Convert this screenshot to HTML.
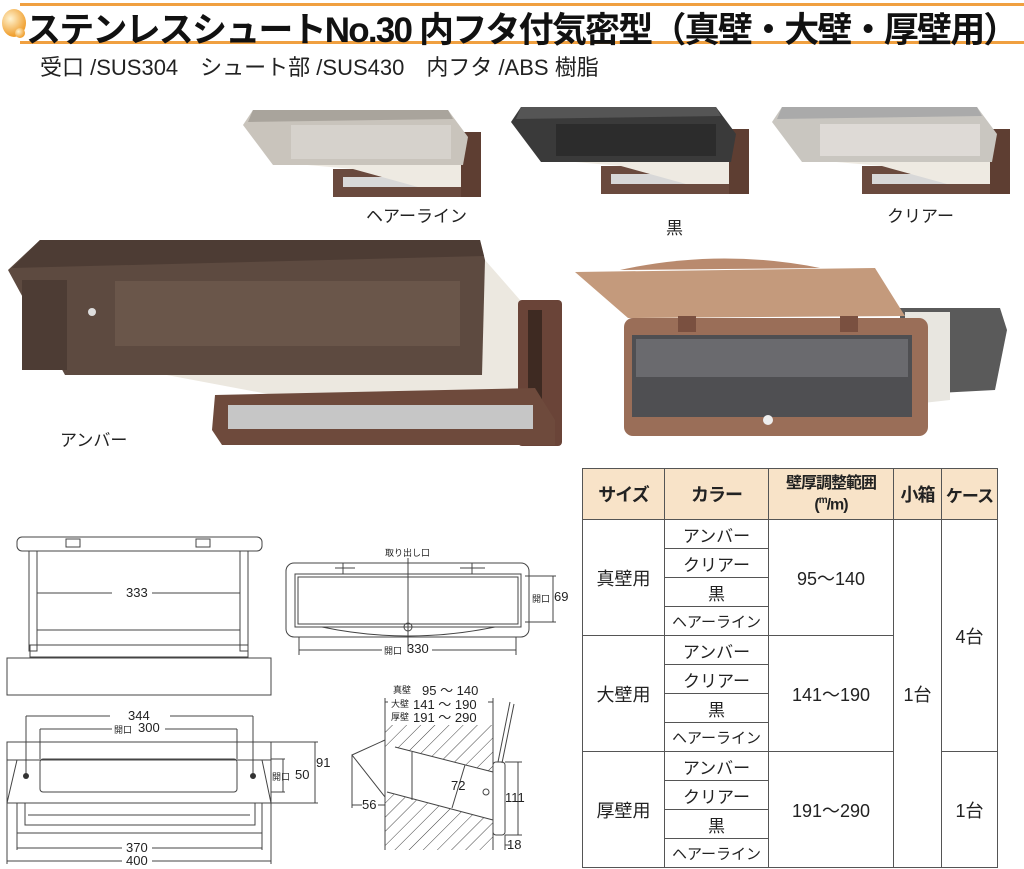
<!DOCTYPE html>
<html><head><meta charset="utf-8"><style>
body{margin:0;background:#fff;width:1024px;height:869px;overflow:hidden;position:relative;font-family:"Liberation Sans","Noto Sans CJK JP",sans-serif;}
.t{position:absolute;white-space:nowrap;color:#222}
table{position:absolute;left:582px;top:468px;border-collapse:collapse;table-layout:fixed;font-family:"Liberation Sans","Noto Sans CJK JP",sans-serif;color:#222}
td,th{border:1.5px solid #555;padding:0;text-align:center;font-weight:normal;white-space:nowrap;overflow:hidden}
th{background:#f8e3c8;font-weight:bold;font-size:18px;height:50px;letter-spacing:-1px}
td{font-size:18px;height:28px}
td.c{font-size:17px}
</style></head><body>
<div style="position:absolute;left:20px;top:3px;width:1004px;height:3px;background:#f0a040"></div>
<div style="position:absolute;left:20px;top:41px;width:1004px;height:3px;background:#f0a040"></div>
<div style="position:absolute;left:2px;top:9px;width:24px;height:28px;border-radius:50%;background:radial-gradient(circle at 35% 35%,#fff3d0,#f0a030 70%)"></div>
<div style="position:absolute;left:15px;top:28px;width:10px;height:10px;border-radius:50%;background:radial-gradient(circle at 35% 35%,#fff3d0,#f0a030 70%)"></div>
<div class="t" style="left:26px;top:2px;font-size:35px;font-weight:bold;letter-spacing:-1.8px;color:#111">ステンレスシュートNo.30 内フタ付気密型（真壁・大壁・厚壁用）</div>
<div class="t" style="left:40px;top:50px;font-size:22px;">受口 /SUS304　シュート部 /SUS430　内フタ /ABS 樹脂</div>

<svg width="1024" height="869" style="position:absolute;left:0;top:0" xmlns="http://www.w3.org/2000/svg">
<defs>
<g id="sm">
<rect x="90" y="62" width="148" height="28" fill="#6a4a3e"/>
<rect x="100" y="70" width="128" height="10" fill="#d8d8d8"/>
<polygon points="30,55 225,45 228,80 175,80 110,62" fill="#eeeae2"/>
<rect x="218" y="25" width="20" height="65" fill="#5e3e32"/>
</g>
<pattern id="h" width="10" height="10" patternUnits="userSpaceOnUse" patternTransform="rotate(45)"><line x1="0" y1="0" x2="0" y2="10" stroke="#444" stroke-width="1"/></pattern>
</defs>
<g transform="translate(243,107)"><use href="#sm"/>
<polygon points="10,3 205,3 225,30 220,58 30,58 0,18" fill="#c9c4bc"/>
<polygon points="10,3 205,3 210,12 5,15" fill="#a9a49c"/>
<rect x="48" y="18" width="160" height="34" fill="#d6d2cc"/></g>
<g transform="translate(511,104)"><use href="#sm"/>
<polygon points="10,3 205,3 225,30 220,58 30,58 0,18" fill="#3a3a3a"/>
<polygon points="10,3 205,3 210,12 5,15" fill="#555"/>
<rect x="45" y="20" width="160" height="32" fill="#2c2c2c"/></g>
<g transform="translate(772,104)"><use href="#sm"/>
<polygon points="10,3 205,3 225,30 220,58 30,58 0,18" fill="#c9c6c0"/>
<polygon points="10,3 205,3 210,12 5,15" fill="#aaa"/>
<rect x="48" y="20" width="160" height="32" fill="#dedad6"/></g>
<polygon points="140,370 485,260 520,300 550,410 480,420 300,400" fill="#ece8e0"/>
<rect x="518" y="300" width="44" height="146" rx="4" fill="#6a4438"/>
<rect x="528" y="310" width="14" height="120" fill="#3e2a22"/>
<polygon points="215,395 535,388 555,420 555,445 222,445 212,430" fill="#6e4a3c"/>
<rect x="228" y="405" width="305" height="24" fill="#c6c6c6"/>
<polygon points="40,240 480,240 485,260 482,375 65,375 8,270" fill="#5d4a40"/>
<polygon points="40,240 480,240 484,256 12,268" fill="#4d3c34"/>
<rect x="22" y="280" width="45" height="90" fill="#4d3c34"/>
<rect x="115" y="281" width="345" height="65" fill="#6a564a"/>
<circle cx="92" cy="312" r="4" fill="#ddd"/>
<polygon points="900,308 1000,308 1007,330 995,390 900,395" fill="#5a5a5a"/>
<polygon points="905,312 950,312 950,400 905,405" fill="#e8e6e0"/>
<path d="M620,270 Q720,248 820,268 Z" fill="#b98a6e"/>
<polygon points="575,272 875,268 905,316 628,318" fill="#c49a7c"/>
<rect x="624" y="318" width="304" height="118" rx="9" fill="#9a6e58"/>
<rect x="632" y="335" width="280" height="82" fill="#4f4f52"/>
<rect x="636" y="339" width="272" height="38" fill="#6a6a6e"/>
<circle cx="768" cy="420" r="5" fill="#eee"/>
<rect x="678" y="316" width="18" height="16" fill="#7a5040"/><rect x="840" y="316" width="18" height="16" fill="#7a5040"/>

<g fill="none" stroke="#444" stroke-width="1">
<rect x="17" y="537" width="245" height="14" rx="5"/>
<rect x="66" y="539" width="14" height="8"/><rect x="196" y="539" width="14" height="8"/>
<rect x="29" y="551" width="8" height="100"/><rect x="240" y="551" width="8" height="100"/>
<line x1="37" y1="630" x2="240" y2="630"/><rect x="30" y="645" width="218" height="12"/>
<line x1="37" y1="593" x2="112" y2="593"/><line x1="152" y1="593" x2="240" y2="593"/>
<rect x="7" y="658" width="264" height="37"/>
<rect x="286" y="563" width="243" height="74" rx="8"/>
<rect x="295" y="574" width="226" height="53"/><rect x="298" y="577" width="220" height="47"/>
<path d="M322,627 Q408,645 495,627"/>
<line x1="335" y1="568" x2="355" y2="568"/><line x1="460" y1="568" x2="485" y2="568"/>
<line x1="343" y1="563" x2="343" y2="574"/><line x1="472" y1="563" x2="472" y2="574"/>
<line x1="408" y1="558" x2="408" y2="652"/><circle cx="408" cy="627" r="4"/>
<line x1="525" y1="576" x2="556" y2="576"/><line x1="525" y1="622" x2="556" y2="622"/><line x1="553" y1="576" x2="553" y2="622"/>
<line x1="299" y1="637" x2="299" y2="655"/><line x1="516" y1="637" x2="516" y2="655"/>
<line x1="299" y1="650" x2="382" y2="650"/><line x1="432" y1="650" x2="516" y2="650"/>
<rect x="7" y="742" width="264" height="61"/>
<polyline points="7,803 17,760 7,760"/><polyline points="271,803 262,760 271,760"/>
<line x1="7" y1="760" x2="271" y2="760"/>
<rect x="40" y="759" width="197" height="33" rx="3"/>
<path d="M17,803 L17,833 L262,833 L262,803 M25,803 L25,825 L255,825 L255,803 M28,815 L250,815"/>
<line x1="26" y1="716" x2="26" y2="776"/><line x1="253" y1="716" x2="253" y2="776"/>
<line x1="26" y1="716" x2="110" y2="716"/><line x1="170" y1="716" x2="253" y2="716"/>
<line x1="40" y1="729" x2="40" y2="759"/><line x1="237" y1="729" x2="237" y2="759"/>
<line x1="40" y1="729" x2="112" y2="729"/><line x1="165" y1="729" x2="237" y2="729"/>
<line x1="271" y1="742" x2="318" y2="742"/><line x1="271" y1="803" x2="318" y2="803"/><line x1="315" y1="742" x2="315" y2="803"/>
<line x1="271" y1="759" x2="285" y2="759"/><line x1="271" y1="792" x2="285" y2="792"/><line x1="283" y1="759" x2="283" y2="792"/>
<line x1="17" y1="833" x2="17" y2="850"/><line x1="262" y1="833" x2="262" y2="850"/>
<line x1="17" y1="848" x2="122" y2="848"/><line x1="152" y1="848" x2="262" y2="848"/>
<line x1="7" y1="803" x2="7" y2="864"/><line x1="271" y1="803" x2="271" y2="864"/>
<line x1="7" y1="861" x2="122" y2="861"/><line x1="152" y1="861" x2="271" y2="861"/>
</g>
<g fill="#333"><circle cx="26" cy="776" r="3"/><circle cx="253" cy="776" r="3"/></g>
<polygon points="385,725 493,725 493,772 395,747 385,747" fill="url(#h)" stroke="none"/>
<polygon points="385,792 493,820 493,850 385,850" fill="url(#h)" stroke="none"/>
<g fill="none" stroke="#444" stroke-width="1">
<line x1="385" y1="725" x2="385" y2="850"/><line x1="493" y1="725" x2="493" y2="850"/>
<line x1="395" y1="747" x2="493" y2="772"/><line x1="387" y1="792" x2="493" y2="820"/>
<line x1="412" y1="752" x2="412" y2="800"/>
<polyline points="385,740 352,755 385,797"/><line x1="352" y1="755" x2="352" y2="808"/>
<line x1="352" y1="805" x2="362" y2="805"/><line x1="378" y1="805" x2="385" y2="805"/>
<rect x="493" y="762" width="12" height="73" rx="3"/>
<line x1="498" y1="762" x2="510" y2="702"/><line x1="502" y1="763" x2="514" y2="704"/>
<line x1="505" y1="762" x2="522" y2="762"/><line x1="505" y1="835" x2="522" y2="835"/><line x1="518" y1="762" x2="518" y2="835"/>
<line x1="505" y1="835" x2="505" y2="850"/><line x1="505" y1="845" x2="510" y2="845"/>
<line x1="385" y1="702" x2="388" y2="702"/><line x1="488" y1="702" x2="493" y2="702"/>
<line x1="385" y1="698" x2="385" y2="725"/><line x1="493" y1="698" x2="493" y2="725"/>
<line x1="465" y1="765" x2="452" y2="808"/>
<circle cx="486" cy="792" r="3"/>
</g>
</svg>

<div class="t" style="left:366px;top:202px;font-size:17px;">ヘアーライン</div>
<div class="t" style="left:666px;top:214px;font-size:17px;">黒</div>
<div class="t" style="left:887px;top:202px;font-size:17px;">クリアー</div>
<div class="t" style="left:60px;top:426px;font-size:17px;">アンバー</div>

<div class="t" style="left:126px;top:585px;font-size:13px;">333</div>
<div class="t" style="left:385px;top:546px;font-size:9px;">取り出し口</div>
<div class="t" style="left:532px;top:592px;font-size:9px;">開口</div><div class="t" style="left:554px;top:589px;font-size:13px;">69</div>
<div class="t" style="left:384px;top:644px;font-size:9px;">開口</div><div class="t" style="left:407px;top:641px;font-size:13px;">330</div>
<div class="t" style="left:128px;top:708px;font-size:13px;">344</div>
<div class="t" style="left:114px;top:723px;font-size:9px;">開口</div><div class="t" style="left:138px;top:720px;font-size:13px;">300</div>
<div class="t" style="left:316px;top:755px;font-size:13px;">91</div>
<div class="t" style="left:272px;top:770px;font-size:9px;">開口</div><div class="t" style="left:295px;top:767px;font-size:13px;">50</div>
<div class="t" style="left:126px;top:840px;font-size:13px;">370</div>
<div class="t" style="left:126px;top:853px;font-size:13px;">400</div>
<div class="t" style="left:393px;top:683px;font-size:9px;">真壁</div><div class="t" style="left:422px;top:680px;font-size:13px;">95 ～ 140</div>
<div class="t" style="left:391px;top:697px;font-size:9px;">大壁</div><div class="t" style="left:413px;top:694px;font-size:13px;">141 ～ 190</div>
<div class="t" style="left:391px;top:710px;font-size:9px;">厚壁</div><div class="t" style="left:413px;top:707px;font-size:13px;">191 ～ 290</div>
<div class="t" style="left:451px;top:778px;font-size:13px;">72</div>
<div class="t" style="left:362px;top:797px;font-size:13px;">56</div>
<div class="t" style="left:505px;top:790px;font-size:13px;">111</div>
<div class="t" style="left:507px;top:837px;font-size:13px;">18</div>

<table style="width:415px">
<colgroup><col style="width:82px"><col style="width:104px"><col style="width:125px"><col style="width:48px"><col style="width:56px"></colgroup>
<tr><th>サイズ</th><th>カラー</th><th style="font-size:16px;line-height:17px">壁厚調整範囲<br>(<sup style="font-size:10px">m</sup>/m)</th><th>小箱</th><th style="font-size:17px">ケース</th></tr>
<tr><td rowspan="4">真壁用</td><td class="c">アンバー</td><td rowspan="4">95～140</td><td rowspan="12">1台</td><td rowspan="8">4台</td></tr>
<tr><td class="c">クリアー</td></tr><tr><td class="c">黒</td></tr><tr><td class="c" style="font-size:15px">ヘアーライン</td></tr>
<tr><td rowspan="4">大壁用</td><td class="c">アンバー</td><td rowspan="4">141～190</td></tr>
<tr><td class="c">クリアー</td></tr><tr><td class="c">黒</td></tr><tr><td class="c" style="font-size:15px">ヘアーライン</td></tr>
<tr><td rowspan="4">厚壁用</td><td class="c">アンバー</td><td rowspan="4">191～290</td><td rowspan="4">1台</td></tr>
<tr><td class="c">クリアー</td></tr><tr><td class="c">黒</td></tr><tr><td class="c" style="font-size:15px">ヘアーライン</td></tr>
</table>
</body></html>
